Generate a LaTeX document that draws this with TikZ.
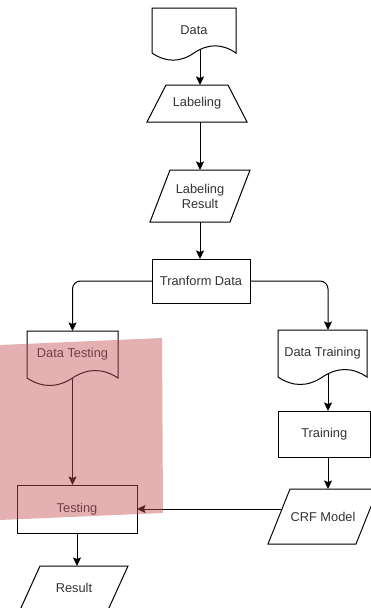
\documentclass[tikz,border=0pt]{standalone}
\usepackage{fontspec}
\setmainfont{Liberation Sans}
\usetikzlibrary{arrows.meta,calc}
\definecolor{hl}{RGB}{196,80,86}
\tikzset{
  lbl/.style={draw=none, inner sep=0pt, outer sep=0pt, align=center, text=black!80,
    font=\fontsize{12.8}{15}\selectfont},
  ln/.style={draw=black, line width=1pt, line join=miter},
  arr/.style={ln, -{Stealth[length=8.5pt,width=8pt,inset=1.5pt]}},
  hlbox/.style={fill=hl, opacity=0.45},
}
\newcommand\docshape[1]{\draw[ln] let \p1=(#1.north west), \p2=(#1.south east),
  \n1={(\x2-\x1)/6}, \n2={0.212*(\y1-\y2)}, \n3={(\x1+\x2)/2} in
  (\x1,\y1) -- (\x2,\y1) -- (\x2,\y2)
  .. controls ({\x2-\n1},{\y2+\n2}) and ({\n3+\n1},{\y2+\n2}) .. (\n3,\y2)
  .. controls ({\n3-\n1},{\y2-\n2}) and ({\x1+\n1},{\y2-\n2}) .. (\x1,\y2) -- cycle;}
\newcommand\parashape[2]{\draw[ln] let \p1=(#1.north west), \p2=(#1.south east) in
  ({\x1+#2pt},\y1) -- (\x2,\y1) -- ({\x2-#2pt},\y2) -- (\x1,\y2) -- cycle;}
\newcommand\trapshape[2]{\draw[ln] let \p1=(#1.north west), \p2=(#1.south east) in
  ({\x1+#2pt},\y1) -- ({\x2-#2pt},\y1) -- (\x2,\y2) -- (\x1,\y2) -- cycle;}
\begin{document}
\begin{tikzpicture}[x=1pt,y=-1pt]
\path[clip] (0,0) rectangle (371,608);
\fill[white] (0,0) rectangle (371,608);
% nodes
\node[lbl, minimum width=84pt, minimum height=45pt] (data) at (194,30.5) {Data};
\node[lbl, minimum width=100pt, minimum height=37pt] (lab) at (197,103.5) {Labeling};
\node[lbl, minimum width=100pt, minimum height=52pt] (labres) at (200,196) {Labeling\\Result};
\node[lbl, minimum width=98pt, minimum height=44pt] (tdata) at (201,281) {Tranform Data};
\node[lbl, minimum width=91pt, minimum height=47pt] (dtest) at (72.5,354.5) {Data Testing};
\node[lbl, minimum width=89pt, minimum height=47pt] (dtrain) at (322.5,353.5) {Data Training};
\node[lbl, minimum width=92.5pt, minimum height=46pt] (train) at (324.25,434) {Training};
\node[lbl, minimum width=110pt, minimum height=55pt] (crf) at (323,516.5) {CRF Model};
\node[lbl, minimum width=120pt, minimum height=48pt] (testing) at (77,509) {Testing};
\node[lbl, minimum width=108pt, minimum height=44pt] (result) at (74,588) {Result};
% outlines
\docshape{data}
\trapshape{lab}{19}
\parashape{labres}{20}
\draw[ln] (tdata.north west) rectangle (tdata.south east);
\docshape{dtest}
\docshape{dtrain}
\draw[ln] (train.north west) rectangle (train.south east);
\parashape{crf}{22}
\draw[ln] (testing.north west) rectangle (testing.south east);
\parashape{result}{20}
% connectors
\draw[arr] ([xshift=6pt,yshift=4pt]data.south) -- ([xshift=6pt]data.south |- lab.north);
\draw[arr] ([xshift=3pt]lab.south) -- (labres.north);
\draw[arr] (labres.south) -- (labres.south |- tdata.north);
\draw[arr, rounded corners=8pt] (tdata.west) -| (dtest.north);
\draw[arr, rounded corners=8pt] (tdata.east) -| ([xshift=5.5pt]dtrain.north);
\draw[arr] (dtest.south) -- (dtest.south |- testing.north);
\draw[arr] ([xshift=5.5pt,yshift=3.7pt]dtrain.south) -- ([xshift=5.5pt]dtrain.south |- train.north);
\draw[arr] ([xshift=3.75pt]train.south) -- ([xshift=3.75pt]train.south |- crf.north);
\draw[arr] ([xshift=14pt]crf.west |- testing.east) -- (testing.east);
\draw[arr] (testing.south) -- (testing.south |- result.north);
% highlight overlay
\fill[hlbox] (0,345) -- (162,338) -- (163,513) -- (0,520) -- cycle;
\end{tikzpicture}
\end{document}
